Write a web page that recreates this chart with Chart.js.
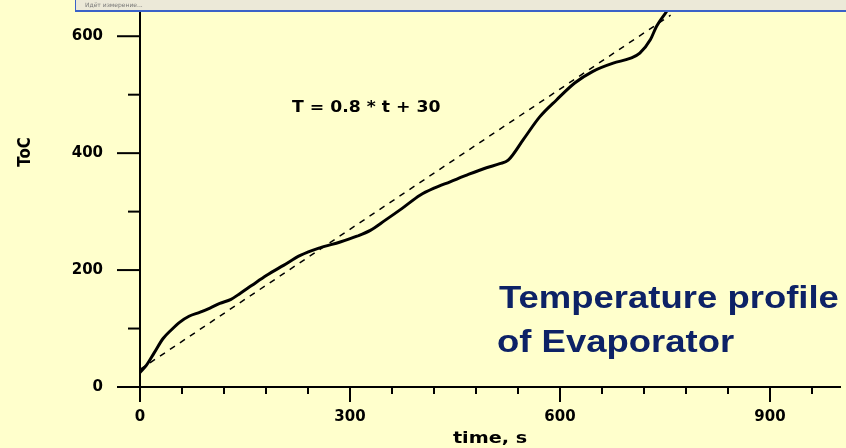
<!DOCTYPE html>
<html>
<head>
<meta charset="utf-8">
<script src="https://cdn.jsdelivr.net/npm/chart.js@4.4.0/dist/chart.umd.min.js"></script>
<style>
  html, body { margin: 0; padding: 0; background: #ffffcc; }
  #wrap { position: relative; width: 846px; height: 448px; }
</style>
</head>
<body>
<div id="wrap"><canvas id="tempChart" width="846" height="448"></canvas></div>
<script>
// measured curve (time, s -> temperature, C)
const timeValues = [0, 9, 20, 33, 45, 57, 70, 86, 100, 114, 130, 143, 160, 181, 205, 229, 257, 286, 310, 329,
  350, 375, 400, 420, 443, 470, 495, 514, 526, 548, 571, 595, 621, 647, 676, 700, 714, 729, 738, 752, 762];
const tempValues = [25, 37, 58, 83, 98, 111, 121, 128, 135, 143, 150, 160, 174, 191, 208, 225, 238, 248, 258, 268,
  285, 306, 328, 340, 351, 364, 375, 382, 388, 424, 462, 491, 520, 540, 554, 562, 571, 594, 617, 642, 662];

// fitted line T = 0.8 * t + 30 (end points)
const fitTime = [0, 758];
const fitTemp = [30, 636];

const xTickLabels = [0, 300, 600, 900];
const xMinorTicks = [60, 120, 180, 240, 360, 420, 480, 540, 660, 720, 780, 840, 960];
const yTickLabels = [0, 200, 400, 600];
const yMinorTicks = [100, 300, 500];

const curvePoints = timeValues.map((t, i) => ({ x: t, y: tempValues[i] }));
const fitPoints = fitTime.map((t, i) => ({ x: t, y: fitTemp[i] }));

function stretchedText(ctx, text, x, y, o) {
  ctx.save();
  ctx.translate(x, y);
  ctx.scale(o.sx || 1, 1);
  if (o.rotate) ctx.rotate(o.rotate);
  ctx.font = o.font;
  ctx.fillStyle = o.color || '#000';
  ctx.textAlign = o.align || 'left';
  ctx.textBaseline = o.baseline || 'alphabetic';
  ctx.fillText(text, 0, 0);
  ctx.restore();
}

const decorPlugin = {
  id: 'decor',
  afterDraw(chart) {
    const ctx = chart.ctx;
    const xs = chart.scales.x, ys = chart.scales.y;
    const area = chart.chartArea;

    // tick marks, long for labelled values
    ctx.save();
    ctx.strokeStyle = '#000';
    ctx.lineWidth = 2;
    const seg = (x1, y1, x2, y2) => { ctx.beginPath(); ctx.moveTo(x1, y1); ctx.lineTo(x2, y2); ctx.stroke(); };
    xTickLabels.forEach(v => { const p = xs.getPixelForValue(v); seg(p, area.bottom, p, area.bottom + 15); });
    xMinorTicks.forEach(v => { const p = xs.getPixelForValue(v); seg(p, area.bottom, p, area.bottom + 7); });
    yTickLabels.forEach(v => { const p = ys.getPixelForValue(v); seg(area.left - 23, p, area.left, p); });
    yMinorTicks.forEach(v => { const p = ys.getPixelForValue(v); seg(area.left - 12, p, area.left, p); });
    ctx.restore();

    // texts
    stretchedText(ctx, 'ToC', 26, 152, { font: 'bold 15px "DejaVu Sans"', sx: 1.15, rotate: -Math.PI / 2, align: 'center', baseline: 'middle' });
    stretchedText(ctx, 'time, s', 490, 443, { font: 'bold 16px "DejaVu Sans"', sx: 1.2, align: 'center' });
    stretchedText(ctx, 'T = 0.8 * t + 30', 292, 112, { font: 'bold 15px "DejaVu Sans"', sx: 1.15 });
    stretchedText(ctx, 'Temperature profile', 499, 308, { font: 'bold 32px "Liberation Sans"', sx: 1.14, color: '#0d2266' });
    stretchedText(ctx, 'of Evaporator', 497, 352, { font: 'bold 32px "Liberation Sans"', sx: 1.14, color: '#0d2266' });

    // window status strip pasted over the top of the picture
    ctx.save();
    ctx.fillStyle = '#ece9d8';
    ctx.fillRect(75, 0, 771, 11);
    ctx.fillStyle = '#3a62c8';
    ctx.fillRect(75, 10, 771, 2);
    ctx.fillRect(75, 0, 1, 12);
    ctx.font = '6px "DejaVu Sans"';
    ctx.fillStyle = '#777';
    ctx.textBaseline = 'middle';
    ctx.fillText('Идёт измерение...', 85, 5);
    ctx.restore();
  }
};

const tickFont = { family: '"DejaVu Sans"', weight: 'bold', size: 15 };

new Chart(document.getElementById('tempChart'), {
  type: 'line',
  data: {
    datasets: [
      {
        label: 'T',
        data: curvePoints,
        borderColor: '#000',
        borderWidth: 3,
        pointRadius: 0,
        cubicInterpolationMode: 'monotone',
        fill: false
      },
      {
        label: 'fit',
        data: fitPoints,
        borderColor: '#000',
        borderWidth: 1.5,
        borderDash: [6, 6],
        pointRadius: 0,
        fill: false
      }
    ]
  },
  options: {
    responsive: false,
    animation: false,
    layout: { padding: { top: 7, right: 6, left: 0, bottom: 0 } },
    plugins: { legend: { display: false }, tooltip: { enabled: false } },
    scales: {
      x: {
        type: 'linear',
        min: 0,
        max: 1000,
        afterBuildTicks: s => { s.ticks = xTickLabels.map(v => ({ value: v })); },
        afterFit: s => { s.height = 61; s.paddingLeft = 0; s.paddingRight = 0; },
        ticks: { color: '#000', font: tickFont, padding: 21, maxRotation: 0 },
        grid: { display: false, drawTicks: false },
        border: { display: true, color: '#000', width: 2 }
      },
      y: {
        min: 0,
        max: 650,
        afterBuildTicks: s => { s.ticks = yTickLabels.map(v => ({ value: v })); },
        afterFit: s => { s.width = 140; s.paddingTop = 0; s.paddingBottom = 0; },
        ticks: { color: '#000', font: tickFont, padding: 37 },
        grid: { display: false, drawTicks: false },
        border: { display: true, color: '#000', width: 2 }
      }
    }
  },
  plugins: [decorPlugin]
});
</script>
</body>
</html>
